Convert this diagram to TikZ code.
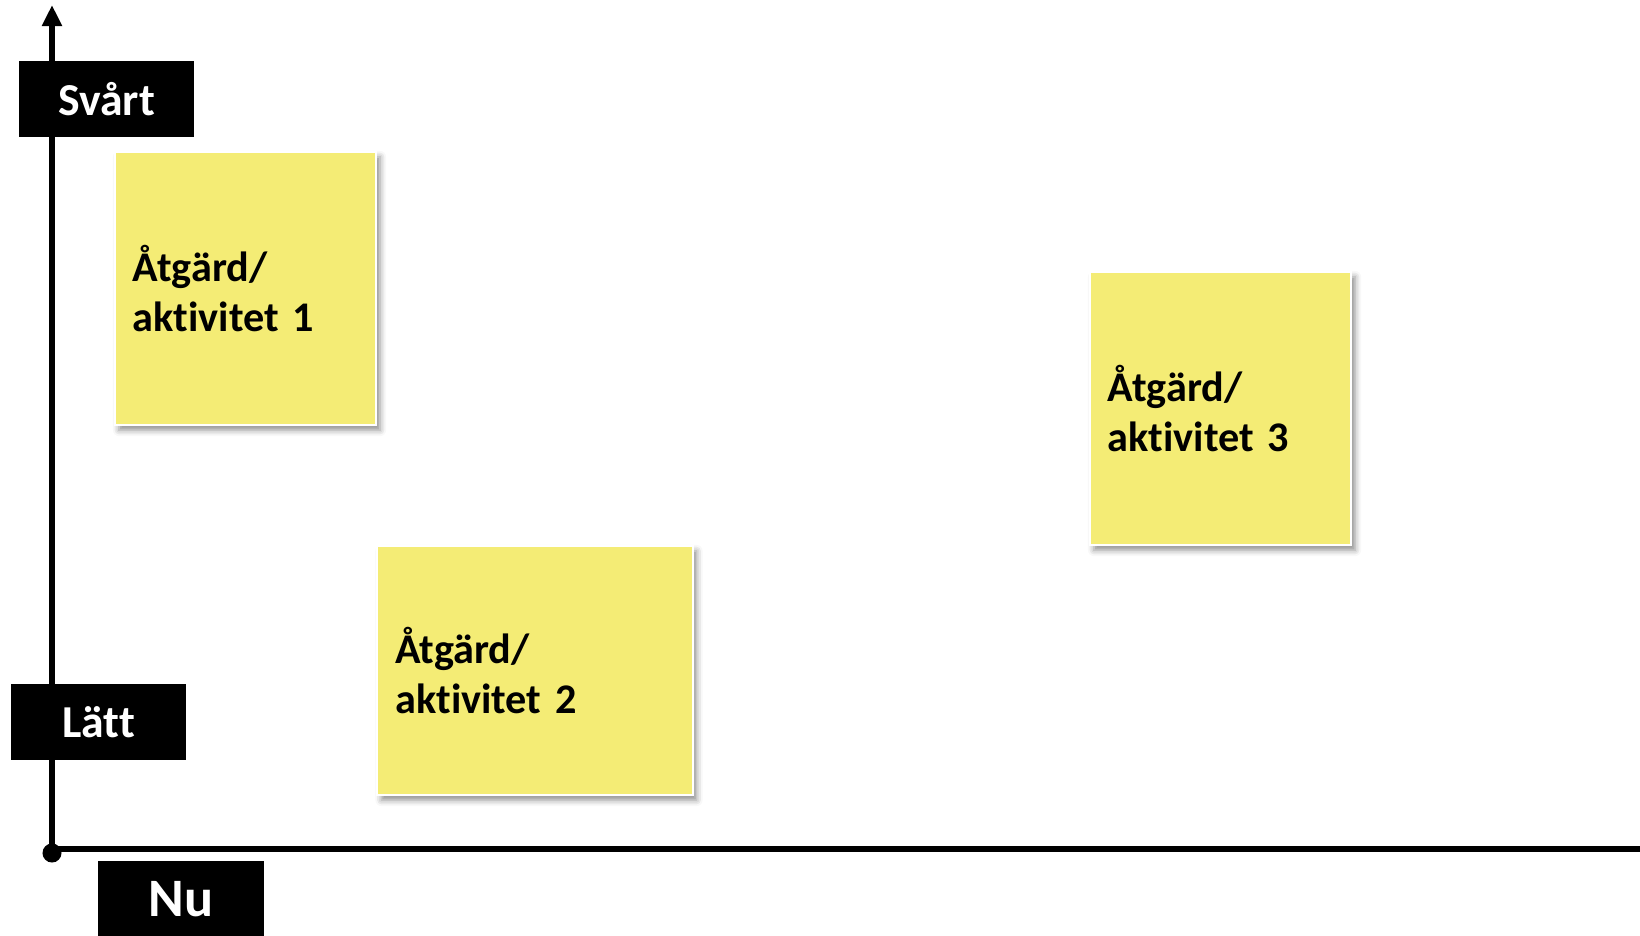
\documentclass[tikz,border=0pt]{standalone}
\usepackage{fontspec}
\setmainfont{Carlito}[Ligatures=NoCommon]
\usepackage{tikz}
\usetikzlibrary{arrows.meta,shadows.blur}
\definecolor{notefill}{RGB}{244,236,117}

\begin{document}
\begin{tikzpicture}[x=0.01cm,y=-0.01cm
	,>={Triangle[width=0.19cm,length=0.21cm]}
	,axis/.style={line width=0.06cm}
	,tag/.style={fill=black,text=white,inner sep=0pt
		,font=\bfseries\fontsize{13}{15}\selectfont
		,minimum width=1.75cm,minimum height=0.76cm}
	,note/.style={fill=notefill,draw=white,line width=0.6pt
		,blur shadow={shadow xshift=0.04cm,shadow yshift=-0.05cm
			,shadow blur radius=0.06cm,shadow opacity=45}
		,font=\bfseries\fontsize{12}{14.2}\selectfont
		,align=left,inner xsep=0.18cm}
	]
  \clip (0,0) rectangle (1640,935);

  % axes
  \coordinate (ytop) at (52,5);
  \coordinate (xend) at (1640,849);
  \node[circle,fill=black,inner sep=0pt,minimum size=0.19cm] (orig) at (52,853) {};
  \draw[axis,->] (orig.center) -- (ytop);
  \draw[axis] (orig.center |- xend) -- (xend);

  % axis tags
  \node[tag] (hard) at (106.5,99)  {Svårt};
  \node[tag] (easy) at (98.5,722)  {Lätt};
  \node[tag,minimum width=1.66cm
	,font=\bfseries\fontsize{15.4}{18}\selectfont] (now) at (181,899) {Nu};

  % sticky notes
  \node[note,minimum width=2.61cm,minimum height=2.73cm,text width=2.25cm]
	(act1) at (245.5,288.5) {Åtgärd/\\aktivitet 1};
  \node[note,minimum width=3.15cm,minimum height=2.49cm,text width=2.79cm]
	(act2) at (535,670.5)   {Åtgärd/\\aktivitet 2};
  \node[note,minimum width=2.61cm,minimum height=2.73cm,text width=2.25cm]
	(act3) at (1220.5,408.5) {Åtgärd/\\aktivitet 3};
\end{tikzpicture}
\end{document}
